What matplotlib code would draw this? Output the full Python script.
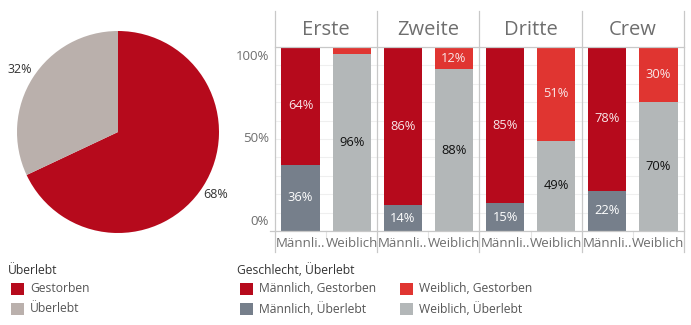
import matplotlib
matplotlib.use("Agg")
import matplotlib.pyplot as plt
import numpy as np
from matplotlib.lines import Line2D
from matplotlib.patches import Rectangle

plt.rcParams['font.family'] = ['Open Sans', 'DejaVu Sans']

# ---- data ----
pie_labels = ['Gestorben', 'Überlebt']
pie_values = [68, 32]

classes = ['Erste', 'Zweite', 'Dritte', 'Crew']
genders = ['Männli..', 'Weiblich']
# share that died / survived, per class: [Männlich, Weiblich]
died = [[64, 4], [86, 12], [85, 51], [78, 30]]
survived = [[36, 96], [14, 88], [15, 49], [22, 70]]
show_died_label = [[True, False], [True, True], [True, True], [True, True]]

# colours
c_pie = ['#B60A1C', '#BAB0AC']
c_m_died, c_w_died = '#B60A1C', '#E03531'
c_m_surv, c_w_surv = '#767F8B', '#B3B7B8'
line_c = '#C8C8C8'
txt_c = '#6E6E6E'

W, H = 691, 325
fig = plt.figure(figsize=(W / 100, H / 100), dpi=100)


def fx(px):
    return px / W


def fy(py):
    return 1 - py / H


# ---- pie ----
ax_pie = fig.add_axes([fx(17), fy(233), fx(202), 202 / H])
wedges, texts, autotexts = ax_pie.pie(
    pie_values, colors=c_pie, startangle=90, counterclock=False,
    autopct=lambda p: '%d%%' % round(p), pctdistance=1.15,
    wedgeprops=dict(linewidth=0))
for t in autotexts:
    t.set_fontsize(9)
    t.set_color('#333333')
ax_pie.set_xlim(-1, 1)
ax_pie.set_ylim(-1, 1)
ax_pie.set_aspect('equal')

# ---- faceted bars ----
left0, right0 = 275, 684
top_px, bot_px = 47, 231
pw = (right0 - left0) / len(classes)

for i, cls in enumerate(classes):
    ax = fig.add_axes([fx(left0 + i * pw), fy(bot_px), fx(pw), (bot_px - top_px) / H])
    x = np.arange(2)
    d = np.array(died[i])
    s = np.array(survived[i])
    ax.bar(x, s, width=0.75, color=[c_m_surv, c_w_surv], zorder=2)
    ax.bar(x, d, bottom=s, width=0.75, color=[c_m_died, c_w_died], zorder=2)
    ax.set_xlim(-0.5, 1.5)
    ax.set_ylim(0, 100)
    ax.set_yticks(np.arange(0, 101, 10))
    ax.grid(axis='y', color='#EFEFEF', linewidth=0.8, zorder=0)
    ax.tick_params(left=False, bottom=False, labelleft=False, labelbottom=False)
    for sp in ax.spines.values():
        sp.set_visible(False)

    # segment labels
    for j in range(2):
        surv_col = 'white' if j == 0 else '#111111'
        ax.text(x[j], s[j] / 2, '%d%%' % s[j], ha='center', va='center',
                fontsize=9.3, color=surv_col, zorder=3)
        if show_died_label[i][j]:
            ax.text(x[j], s[j] + d[j] / 2, '%d%%' % d[j], ha='center', va='center',
                    fontsize=9.3, color='#F8E6E8', zorder=3)
        ax.text(x[j], -3.2, genders[j], ha='center', va='top', fontsize=9.5,
                color=txt_c, clip_on=False)

    # header
    ax.text(0.5, 1 + 17 / (bot_px - top_px), cls, transform=ax.transAxes,
            ha='center', va='center', fontsize=14.5, color=txt_c)

    # small divider under the bars
    xm = left0 + i * pw + pw / 2
    fig.add_artist(Line2D([fx(xm), fx(xm)], [fy(bot_px), fy(bot_px + 6)],
                          color='#E3E3E3', lw=0.8))

    if i == 0:
        for val, va, off in [(0, 'bottom', 1.5), (50, 'center', 0), (100, 'top', -1.5)]:
            ax.text(-0.5 - 0.12, val + off, '%d%%' % val, ha='right', va=va,
                    fontsize=9.5, color=txt_c, clip_on=False)

# frame lines of the facet grid
for k in range(len(classes) + 1):
    xp = left0 + k * pw
    fig.add_artist(Line2D([fx(xp), fx(xp)], [fy(11), fy(252)], color=line_c, lw=0.9))
fig.add_artist(Line2D([fx(left0), fx(right0)], [fy(top_px), fy(top_px)], color=line_c, lw=0.9))
fig.add_artist(Line2D([fx(270), fx(right0)], [fy(bot_px), fy(bot_px)], color=line_c, lw=0.9))

# ---- legends ----
def legend_item(xsq, ysq, color, label):
    fig.add_artist(Rectangle((fx(xsq), fy(ysq + 12)), fx(13), 12 / H,
                             transform=fig.transFigure, color=color, lw=0))
    fig.text(fx(xsq + 19), fy(ysq + 6), label, ha='left', va='center',
             fontsize=8.7, color='#555555')


fig.text(fx(8), fy(270), 'Überlebt', ha='left', va='center', fontsize=8.7,
         color='#333333')
legend_item(11, 283, c_pie[0], pie_labels[0])
legend_item(11, 303, c_pie[1], pie_labels[1])

fig.text(fx(237), fy(270), 'Geschlecht, Überlebt', ha='left', va='center',
         fontsize=8.7, color='#333333')
legend_item(240, 283, c_m_died, 'Männlich, Gestorben')
legend_item(240, 303, c_m_surv, 'Männlich, Überlebt')
legend_item(400, 283, c_w_died, 'Weiblich, Gestorben')
legend_item(400, 303, c_w_surv, 'Weiblich, Überlebt')

fig.savefig('out.png', dpi=100)
